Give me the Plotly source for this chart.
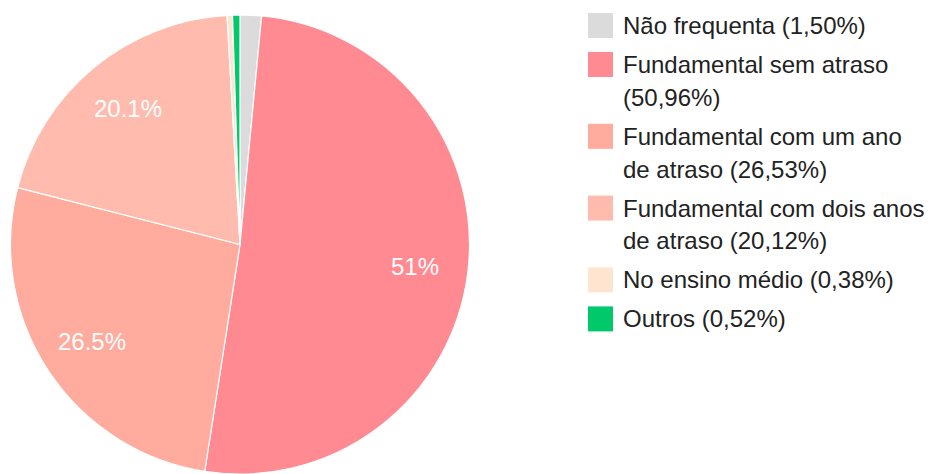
import math
import plotly.graph_objects as go

labels = ["Não frequenta", "Fundamental sem atraso", "Fundamental com um ano de atraso",
          "Fundamental com dois anos de atraso", "No ensino médio", "Outros"]
values = [1.50, 50.96, 26.53, 20.12, 0.38, 0.52]
legend_lines = [
    ["Não frequenta (1,50%)"],
    ["Fundamental sem atraso", "(50,96%)"],
    ["Fundamental com um ano", "de atraso (26,53%)"],
    ["Fundamental com dois anos", "de atraso (20,12%)"],
    ["No ensino médio (0,38%)"],
    ["Outros (0,52%)"],
]
colors = ["#dbdbdb", "#ff8a92", "#ffab9d", "#ffbcae", "#ffe5cf", "#00c96b"]

# page body has an 8px margin: the figure starts at (8, 8)
OFF = 8
W, H = 933 - OFF, 474 - OFF
cx, cy, R = 240.0 - OFF, 244.5 - OFF, 229.5

fig = go.Figure()
fig.add_trace(go.Pie(
    labels=labels, values=values, sort=False, direction="clockwise", rotation=0,
    marker=dict(colors=colors, line=dict(color="white", width=1.2)),
    textinfo="none", hoverinfo="label+percent", showlegend=False,
    domain=dict(x=[(cx - R) / W, (cx + R) / W], y=[max(0, (H - (cy + R)) / H), (H - (cy - R)) / H]),
))

annotations = []
total = sum(values)
cum = 0.0
for v in values:
    frac = v / total
    if frac > 0.05:
        theta = (cum + frac / 2) * 2 * math.pi
        px = cx + 0.77 * R * math.sin(theta)
        py = cy - 0.77 * R * math.cos(theta)
        pct = frac * 100
        txt = f"{pct:.3g}%"
        annotations.append(dict(x=px / W, y=(H - py) / H, xref="paper", yref="paper",
                                text=txt, showarrow=False, xanchor="center", yanchor="middle",
                                font=dict(color="white", size=24, family="Liberation Sans, Arial")))
    cum += frac

shapes = []
y0 = 25.5 - OFF
item_gap = 39.0
line_gap = 32.8
y = y0
sx0, sx1, tx = 588 - OFF, 613 - OFF, 621 - OFF
for lines, col in zip(legend_lines, colors):
    shapes.append(dict(type="rect", xref="paper", yref="paper",
                       x0=sx0 / W, x1=sx1 / W, y0=(H - (y + 12.5)) / H, y1=(H - (y - 12.5)) / H,
                       fillcolor=col, line=dict(width=0)))
    for k, line in enumerate(lines):
        ly = y + k * line_gap
        annotations.append(dict(x=tx / W, y=(H - ly) / H, xref="paper", yref="paper",
                                text=line, showarrow=False, xanchor="left", yanchor="middle",
                                font=dict(color="#222222", size=24, family="Liberation Sans, Arial")))
    y += (len(lines) - 1) * line_gap + item_gap

fig.update_layout(width=W, height=H, margin=dict(l=0, r=0, t=0, b=0),
                  paper_bgcolor="white", plot_bgcolor="white",
                  annotations=annotations, shapes=shapes)
fig.write_html("out.html")
